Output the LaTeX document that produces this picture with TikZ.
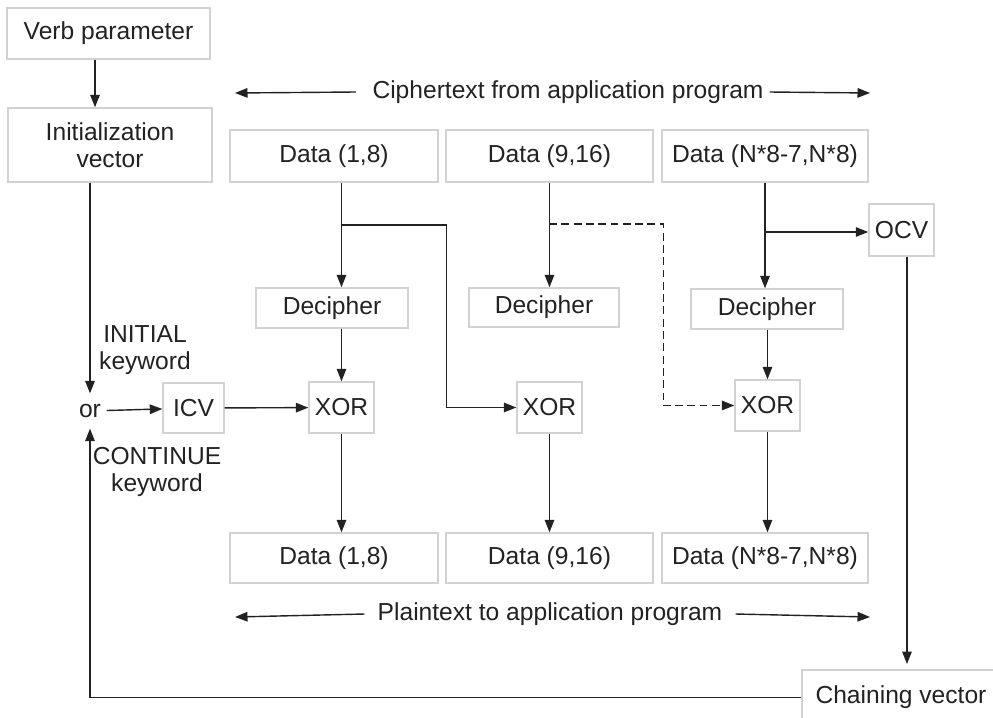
\documentclass[tikz,border=0pt]{standalone}
\usepackage{fontspec}
\setmainfont{Liberation Sans}
\usetikzlibrary{arrows.meta,positioning}
\definecolor{ink}{HTML}{222222}
\definecolor{edge}{HTML}{D2D2D2}

\begin{document}
\begin{tikzpicture}[x=0.02cm,y=-0.02cm,
  every node/.style={font=\fontsize{14}{15.2}\selectfont,text=ink},
  box/.style={draw=edge,line width=0.8pt,minimum height=1.02cm},
  arr/.style={draw=ink,line width=0.8pt,-{Triangle[length=2.5mm,width=1.9mm]}}]
\fill[white] (0,0) rectangle (993,717);
\useasboundingbox (0,0) rectangle (993,717);
\node[box,minimum width=4.06cm] (verb) at (108.5,33.5) {Verb parameter};
\node[box,minimum width=4.08cm,minimum height=1.48cm,align=center] (init) at (110,145) {Initialization\\vector};
\node[box,minimum width=4.16cm,minimum height=1.04cm] (dataA) at (334,156) {Data (1,8)};
\node[box,minimum width=4.14cm,minimum height=1.04cm] (dataB) at (549.5,156) {Data (9,16)};
\node[box,minimum width=4.12cm,minimum height=1.04cm] (dataC) at (765,156) {Data (N*8-7,N*8)};
\node[box,minimum width=1.22cm,minimum height=1.04cm] (ocv) at (901.5,230) {OCV};
\node[box,minimum width=3.04cm,minimum height=0.8cm] (dec1) at (332,308) {Decipher};
\node[box,minimum width=3.0cm,minimum height=0.78cm] (dec2) at (544,307.5) {Decipher};
\node[box,minimum width=3.04cm,minimum height=0.8cm] (dec3) at (767,309) {Decipher};
\node[inner xsep=3pt,inner ysep=6pt] (or) at (90,411) {or};
\node[box,minimum width=1.22cm,minimum height=1.0cm] (icv) at (193.5,408) {ICV};
\node[box,minimum width=1.22cm] (xor1) at (341.5,407.5) {XOR};
\node[box,minimum width=1.22cm] (xor2) at (549.5,407.5) {XOR};
\node[box,minimum width=1.18cm] (xor3) at (767.5,405.5) {XOR};
\node[align=center] (initkw) at (145,350) {INITIAL\\keyword};
\node[align=center] (contkw) at (157,472) {CONTINUE\\keyword};
\node[box,minimum width=4.16cm,minimum height=1.0cm] (dataA2) at (334,558) {Data (1,8)};
\node[box,minimum width=4.14cm,minimum height=1.0cm] (dataB2) at (549.5,558) {Data (9,16)};
\node[box,minimum width=4.12cm,minimum height=1.0cm] (dataC2) at (765,558) {Data (N*8-7,N*8)};
\node[box,minimum width=3.96cm,minimum height=1.1cm] (chain) at (901,697.5) {Chaining vector};
\node (ctext) at (568,92) {Ciphertext from application program};
\node (ptext) at (550,614) {Plaintext to application program};
\coordinate (cl) at (235,93);
\coordinate (cr) at (870,93);
\coordinate (pl) at (235,617);
\coordinate (pr) at (870,617);
\coordinate (vv) at ([xshift=-0.27cm]verb.south);
\coordinate (iv) at ([xshift=-0.4cm]init.south);
\coordinate (ov) at ([xshift=0.11cm]ocv.south);
\coordinate (ja) at (341,225);
\coordinate (jb) at (549,224);
\coordinate (jc) at (764,232);
\draw[arr] ([xshift=-6pt]ctext.west) -- (cl);
\draw[arr] (ctext.east) -- (cr);
\draw[arr] ([xshift=-4pt]ptext.west) -- (pl);
\draw[arr] ([xshift=4pt]ptext.east) -- (pr);
\draw[arr] (vv) -- (vv |- init.north);
\draw[arr] (iv) -- (iv |- or.north);
\draw[arr] (or) -- (icv);
\draw[arr] (icv) -- (xor1);
\draw[arr] (dataA.south -| xor1.north) -- (dec1.north -| xor1.north);
\draw[arr] (dec1.south -| xor1.north) -- (xor1.north);
\draw[arr] (ja) -| ([xshift=-1.4cm]xor2.west) -- (xor2.west);
\draw[arr] (dataB.south) -- (dataB.south |- dec2.north);
\draw[arr,dash pattern=on 4.5pt off 2.5pt] (jb) -| ([xshift=-1.42cm]xor3.west) -- (xor3.west);
\draw[arr] (dataC.south) -- (dataC.south |- dec3.north);
\draw[arr] (jc) -- (jc -| ocv.west);
\draw[arr] (dec3.south -| xor3.north) -- (xor3.north);
\draw[arr] (xor1.south) -- (xor1.south |- dataA2.north);
\draw[arr] (xor2.south) -- (xor2.south |- dataB2.north);
\draw[arr] (xor3.south) -- (xor3.south |- dataC2.north);
\draw[arr,shorten >=3pt] (ov) -- (ov |- chain.north);
\draw[arr] (chain.west) -| (or.south);
\end{tikzpicture}
\end{document}
